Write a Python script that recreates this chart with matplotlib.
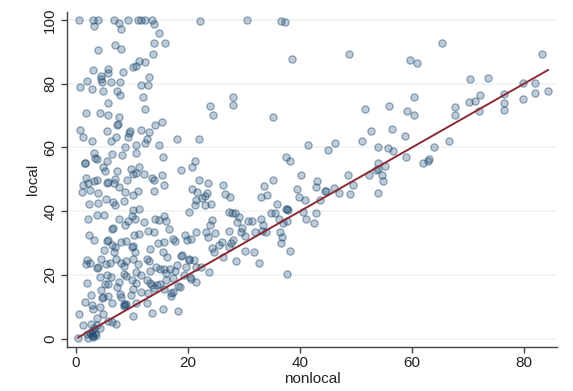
import matplotlib
matplotlib.use("Agg")
import matplotlib.pyplot as plt
import numpy as np

plt.rcParams['font.family'] = ['Liberation Sans', 'DejaVu Sans']

# (nonlocal, local) points
pts = [
    # top left band
    (0.6,100),(3.1,100),(4.0,100),(6.8,100),(9.3,100),(11.1,100),(11.7,100),(12.3,100),(13.5,100),
    (3.2,98.1),(7.7,99.2),(8.1,97.1),(13.9,98.7),(14.8,95.8),(13.9,92.7),(15.9,92.7),(4.0,90.6),(7.0,92.1),(8.0,90.8),(13.8,89.3),
    (11.3,87.2),(12.4,86.8),(10.2,85.2),(10.7,85.6),(3.0,84.3),(5.8,84.5),(5.7,83.3),(8.4,83.7),(4.4,82.4),(4.5,81.4),(4.6,80.6),
    (2.0,80.8),(6.3,80.6),(7.9,80.5),(0.8,78.9),(2.9,78.3),(4.9,77.8),(7.4,77.8),(7.9,76.4),(11.6,79.5),(12.9,79.7),(13.0,82.0),
    (11.9,75.7),(12.3,72.2),(5.8,73.9),(1.8,70.9),(4.3,70.9),(5.8,70.1),(7.7,69.7),(7.4,67.0),(7.5,67.3),(14.2,67.2),(15.4,68.0),
    (0.8,65.5),(5.6,65.3),(9.6,65.3),(9.4,64.4),(11.6,65.5),(13.0,64.9),(1.2,63.2),(7.1,63.2),(9.3,63.4),(6.2,62.1),(2.9,61.9),
    (12.6,62.8),(12.4,61.3),(10.7,60.9),(14.9,60.9),(18.0,62.6),(21.9,62.6),(8.7,60.1),(3.2,58.4),(6.5,58.0),(8.3,57.5),(10.8,58.4),
    (15.6,57.1),(3.4,56.7),(3.8,56.4),(5.5,55.9),(1.6,55.0),(1.7,55.2),(4.9,54.0),(9.8,53.3),(11.3,54.0),(21.3,55.7),(20.8,53.8),
    (18.8,52.9),(5.2,52.7),(7.4,52.5),(10.2,51.7),(10.7,51.9),(12.1,51.7),(15.4,51.5),(1.8,50.4),(3.3,49.4),(3.8,49.8),(5.5,49.0),
    (5.7,49.2),(7.0,50.2),(6.8,49.0),(9.1,49.8),(13.6,50.4),(14.0,49.8),(15.8,48.3),(1.2,48.1),(21.9,49.8),(20.7,46.9),
    # lower left block
    (2.2,48.7),(7.6,47.7),(1.1,46.0),(2.5,46.7),(4.0,45.6),(8.8,46.0),(10.1,45.0),(11.1,46.4),(13.9,46.4),(5.4,43.7),(6.7,42.9),
    (7.0,42.0),(2.4,42.3),(4.0,42.7),(8.5,43.3),(21.5,43.5),(21.3,42.0),(20.1,39.8),(10.1,40.4),(10.0,38.5),(11.2,40.6),
    (3.7,38.9),(5.0,38.7),(2.1,37.5),(10.5,37.7),(7.7,37.5),(9.3,36.8),(12.1,36.6),(14.1,37.5),(14.8,37.2),(15.8,38.5),(16.1,37.0),
    (8.8,35.6),(6.4,34.5),(6.6,34.7),(12.9,33.9),(13.9,33.5),(16.7,34.3),(2.3,32.4),(3.2,31.0),(5.8,31.0),(5.5,30.6),(10.4,32.4),
    (11.3,32.9),(19.5,32.4),(19.9,31.0),(21.5,33.5),(17.6,30.7),(6.5,29.5),(7.0,28.9),(8.0,30.3),(8.9,30.6),(10.0,28.9),(10.1,29.2),
    (14.6,29.9),(15.7,30.3),(17.4,31.4),(5.0,27.8),(6.8,27.2),(10.6,27.2),(13.2,28.0),(15.5,27.2),(16.3,25.6),(18.8,26.0),(20.1,24.8),
    (21.1,24.8),(2.0,24.7),(2.5,23.8),(1.8,23.3),(4.5,25.1),(4.0,22.6),(3.8,22.2),(6.1,23.9),(7.1,25.1),(8.9,24.3),(10.2,24.9),
    (12.6,25.1),(13.0,24.5),(5.3,23.3),(8.1,23.7),(8.6,22.9),(11.1,23.3),(14.3,22.4),(15.0,22.0),(15.8,21.8),(16.8,22.0),(18.0,23.1),
    (19.7,22.4),(21.4,22.6),(4.3,19.3),(5.5,19.9),(6.3,19.5),(8.6,20.4),(8.9,19.7),(10.7,20.9),(11.7,20.1),(13.3,21.1),(16.0,20.5),
    (17.6,21.3),(19.3,19.9),(2.0,17.6),(5.1,17.2),(5.8,17.2),(7.6,17.8),(10.0,18.5),(10.8,17.4),(12.6,18.3),(13.2,17.6),(14.5,16.8),
    (15.0,17.2),(16.1,18.5),(17.3,19.1),(18.2,16.6),(21.5,17.8),(4.4,15.3),(7.3,16.1),(7.9,14.0),(10.2,15.5),(11.7,14.6),(13.5,16.7),
    (13.9,16.0),(15.7,15.5),(16.9,14.2),(17.0,13.4),(2.6,13.6),(4.6,12.7),(4.9,13.2),(5.8,13.4),(8.0,13.2),(9.8,13.8),(12.9,14.2),
    (1.7,11.5),(2.9,10.5),(6.4,11.3),(8.5,10.8),(8.6,10.2),(8.9,10.8),(8.7,10.5),(10.7,11.1),(12.6,11.1),(3.0,9.3),(4.3,9.8),
    (4.9,7.7),(0.5,7.8),(10.2,7.1),(13.5,8.2),(15.5,9.2),(18.2,8.6),(3.7,6.6),(5.7,5.5),(6.4,5.3),(7.1,4.5),(1.2,4.3),(2.6,4.7),
    (3.7,4.3),(3.2,3.3),(2.9,2.3),(2.5,1.7),(3.4,1.9),(2.0,1.5),(0.4,0.3),(2.1,0.3),(4.3,3.5),(3.0,1.0),(2.8,1.2),(3.0,0.6),(3.5,1.2),
    # middle
    (22.2,99.8),(30.5,100),(36.7,99.8),(37.3,99.4),(38.5,87.9),(48.8,89.3),(28.1,75.7),(28.1,73.2),(23.9,73.0),(24.5,70.1),
    (35.2,69.7),(51.7,72.0),(52.6,65.3),(41.4,60.7),(45.0,59.2),(46.3,61.3),(51.1,61.9),(53.9,60.2),(37.5,57.1),(38.2,55.7),
    (21.7,46.0),(23.6,49.0),(23.4,45.7),(23.0,44.8),(22.5,44.0),(26.3,48.1),(26.6,45.4),(27.5,44.4),(33.5,47.9),(35.1,49.8),
    (33.0,44.6),(34.1,45.2),(40.2,51.3),(39.4,47.1),(43.0,49.6),(42.9,47.7),(44.4,46.4),(46.1,47.3),(48.5,51.5),(48.9,45.4),
    (47.0,45.6),(52.4,51.3),(54.0,53.1),(54.0,45.7),
    (23.1,42.0),(24.2,42.3),(27.4,39.8),(27.9,39.4),(28.4,39.5),(29.2,38.1),(28.7,36.6),(24.3,37.2),(23.9,35.6),(23.2,33.5),
    (23.6,31.8),(24.8,33.3),(20.5,31.2),(27.3,33.7),(29.6,34.7),(29.4,33.5),(30.1,32.2),(30.8,36.8),(31.4,37.0),(33.0,37.5),
    (33.4,35.6),(31.9,33.5),(33.3,33.9),(34.0,33.5),(34.9,39.3),(35.5,39.3),(35.9,42.3),(37.5,40.8),(37.8,40.4),(37.6,40.6),
    (36.3,37.7),(37.0,36.4),(37.7,36.8),(36.5,33.5),(36.8,32.0),(36.7,30.1),(26.0,30.3),(25.6,29.3),(24.3,28.5),(26.3,25.7),
    (24.6,27.1),(28.1,31.0),(27.6,30.1),(27.3,28.7),(30.2,27.4),(31.8,27.2),(28.5,24.5),(32.6,23.9),(38.2,27.4),(37.6,20.3),
    (20.4,19.5),(22.3,22.4),(23.7,20.9),(18.6,16.3),(17.3,14.7),(18.9,26.2),(20.2,25.1),(20.5,18.8),
    (39.9,44.4),(40.9,43.5),(42.9,39.3),(41.1,37.5),(42.5,36.4),(40.5,39.8),(43.6,43.5),(44.6,46.3),(49.4,48.3),
    # right
    (65.3,92.9),(59.6,87.4),(60.9,86.6),(83.3,89.3),(70.4,81.6),(73.6,81.8),(79.9,80.3),(81.9,80.3),(84.3,77.8),(81.9,77.0),
    (79.9,75.3),(76.4,76.8),(76.4,73.9),(76.4,71.8),(72.2,76.4),(71.3,74.7),(70.2,74.3),(72.0,71.4),(67.7,72.8),(67.7,70.1),
    (60.3,75.7),(59.2,71.4),(60.4,70.3),(55.9,73.0),(56.5,65.7),(58.8,63.6),(66.6,61.9),(63.9,60.1),(55.8,59.8),(56.7,59.0),
    (59.0,56.9),(62.0,55.2),(62.8,55.7),(63.0,56.3),(54.0,55.2),(55.1,54.2),(53.5,52.9),(54.7,51.5),(54.8,49.4),
]
nonlocal_vals = [p[0] for p in pts]
local_vals = [p[1] for p in pts]

line_x = [0.4, 84.3]
line_y = [0.4, 84.3]

x_ticks = [0, 20, 40, 60, 80]
y_ticks = [0, 20, 40, 60, 80, 100]

fig = plt.figure(figsize=(5.73, 3.91), dpi=100)
ax = fig.add_axes([67/573, 1-346.7/391, (557-67)/573, (346.7-12)/391])

navy = (0.102, 0.278, 0.435)
ax.scatter(nonlocal_vals, local_vals, s=27,
           facecolors=[navy + (0.28,)], edgecolors=[navy + (0.45,)],
           linewidths=0.9, zorder=3)
ax.plot(line_x, line_y, color='#8b2a33', lw=1.4, zorder=4)

ax.set_xlim(-1.6, 85.9)
ax.set_ylim(-2.5, 102.5)
ax.set_xticks(x_ticks)
ax.set_yticks(y_ticks)
ax.yaxis.grid(True, color='#edf3f4', lw=1.1, zorder=0)
ax.xaxis.grid(False)
for s in ['top', 'right']:
    ax.spines[s].set_visible(False)
for s in ['left', 'bottom']:
    ax.spines[s].set_color('#444444')
    ax.spines[s].set_linewidth(1.0)
ax.tick_params(axis='both', direction='out', length=4, width=1, color='#444444',
               labelsize=11, labelcolor='#222222', pad=3)
for lab in ax.get_yticklabels():
    lab.set_rotation(90)
    lab.set_va('center')
ax.set_xlabel('nonlocal', fontsize=11, color='#222222', labelpad=1)
ax.set_ylabel('local', fontsize=11, color='#222222', labelpad=2)

fig.savefig('out.png', dpi=100)
